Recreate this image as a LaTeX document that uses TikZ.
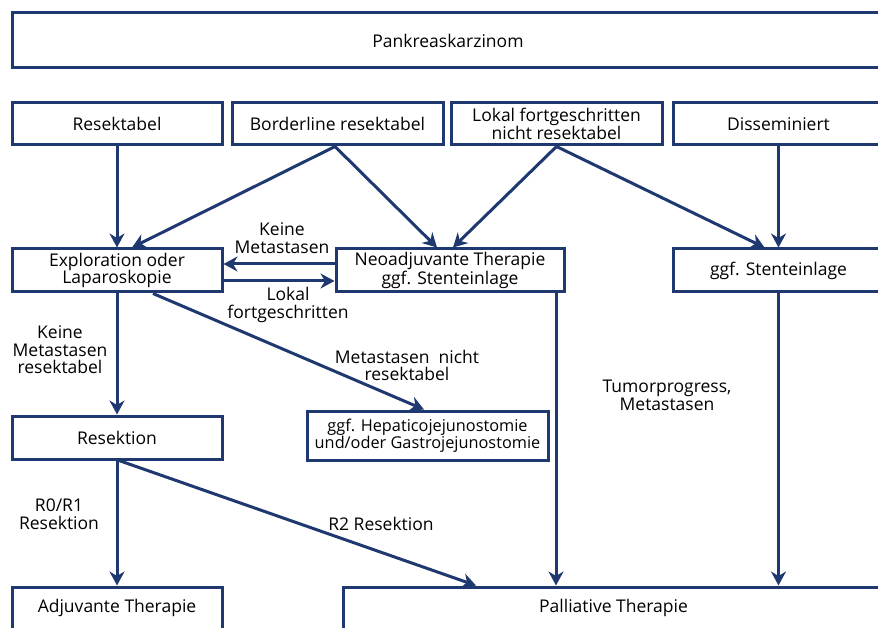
\documentclass[tikz,border=0pt]{standalone}
\usepackage{fontspec}
\setmainfont{Open Sans}
\usetikzlibrary{arrows.meta}
\definecolor{navy}{RGB}{31,56,112}
\begin{document}
\begin{tikzpicture}[x=1pt,y=-1pt,
  font=\fontsize{17.5}{17.5}\selectfont,
  box/.style={draw=navy, line width=3pt, inner sep=0pt, align=center},
  lbl/.style={inner sep=0pt, align=center},
  arr/.style={draw=navy, line width=3pt, -{Stealth[length=14pt,width=15pt,inset=4.5pt]}}]
\useasboundingbox (0,0) rectangle (878,628);
\clip (0,0) rectangle (878,628);
% boxes
\node[box, minimum width=872pt, minimum height=55pt] (top) at (448,40.5) {Pankreaskarzinom};
\node[box, minimum width=210pt, minimum height=42pt] (res) at (117,124) {Resektabel};
\node[box, minimum width=211pt, minimum height=42pt] (bord) at (337.5,124) {Borderline resektabel};
\node[box, minimum width=211pt, minimum height=42pt] (lok) at (556.5,124) {Lokal fortgeschritten\\nicht resektabel};
\node[box, minimum width=211pt, minimum height=42pt] (diss) at (778.5,124) {Disseminiert};
\node[box, minimum width=210pt, minimum height=43pt] (expl) at (117,270.5) {Exploration oder\\Laparoskopie};
\node[box, minimum width=228pt, minimum height=43pt] (neo) at (450,270.5) {Neoadjuvante Therapie\\ggf. Stenteinlage};
\node[box, minimum width=211pt, minimum height=43pt] (stent) at (778.5,270.5) {ggf. Stenteinlage};
\node[box, minimum width=241pt, minimum height=49pt, font=\fontsize{16.3}{17.5}\selectfont] (hep) at (427.5,435.5) {ggf. Hepaticojejunostomie\\und/oder Gastrojejunostomie};
\node[box, minimum width=210pt, minimum height=43pt] (resek) at (117,437.5) {Resektion};
\node[box, minimum width=210pt, minimum height=42pt] (adj) at (117,608) {Adjuvante Therapie};
\node[box, minimum width=541pt, minimum height=42pt] (pall) at (613.5,608) {Palliative Therapie};
% labels
\node[lbl] (l1) at (282,238) {Keine\\Metastasen};
\node[lbl] (l2) at (288,305) {Lokal\\fortgeschritten};
\node[lbl] (l3) at (60,350) {Keine\\Metastasen\\resektabel};
\node[lbl] (l4) at (407,365.5) {Metastasen~ nicht\\resektabel};
\node[lbl] (l5) at (667,395.5) {Tumorprogress,\\Metastasen};
\node[lbl] (l6) at (59,514) {R0/R1\\Resektion};
\node[lbl] (l7) at (381,524) {R2 Resektion};
% connectors
\draw[arr] (res.south) -- (expl.north);
\draw[arr] ([xshift=-2.5pt]bord.south) -- ([xshift=15pt]expl.north);
\draw[arr] ([xshift=-2.5pt]bord.south) -- ([xshift=-13pt]neo.north);
\draw[arr] (lok.south) -- ([xshift=3pt]neo.north);
\draw[arr] (lok.south) -- ([xshift=-14pt]stent.north);
\draw[arr] (diss.south) -- (stent.north);
\draw[arr] ([yshift=6.5pt]neo.west) -- ([yshift=6.5pt]expl.east);
\draw[arr] ([yshift=-10.5pt]expl.east) -- ([yshift=-10.5pt]neo.west);
\draw[arr] (expl.south) -- (resek.north);
\draw[arr] ([xshift=36pt]expl.south) -- ([xshift=-3.5pt]hep.north);
\draw[arr] (resek.south) -- (adj.north);
\draw[arr] ([xshift=2pt]resek.south) -- ([xshift=-137.5pt]pall.north);
\draw[arr] ([xshift=106pt]neo.south) -- ([xshift=106pt]neo.south |- pall.north);
\draw[arr] (stent.south) -- (stent.south |- pall.north);
\end{tikzpicture}
\end{document}
